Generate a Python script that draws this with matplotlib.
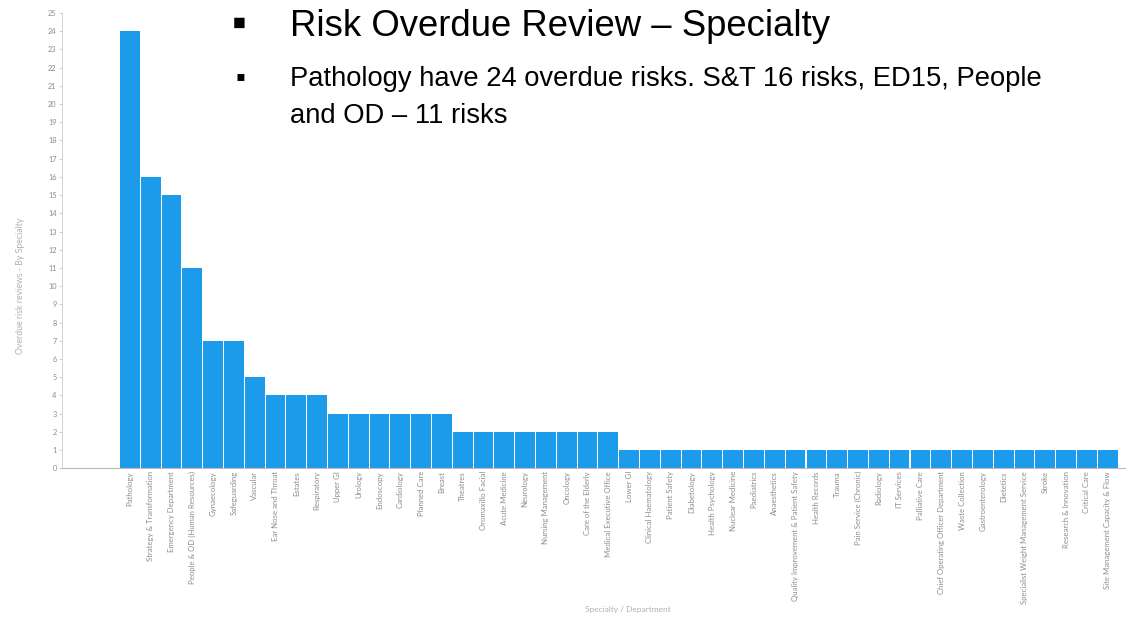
import numpy as np
import matplotlib
matplotlib.use("Agg")
from matplotlib import pyplot as plt

# overdue risk reviews per specialty / department
specialties = [
    "Pathology", "Strategy & Transformation", "Emergency Department",
    "People & OD (Human Resources)", "Gynaecology", "Safeguarding", "Vascular",
    "Ear Nose and Throat", "Estates", "Respiratory", "Upper GI", "Urology",
    "Endoscopy", "Cardiology", "Planned Care", "Breast", "Theatres",
    "Oromaxillo Facial", "Acute Medicine", "Neurology", "Nursing Management",
    "Oncology", "Care of the Elderly", "Medical Executive Office", "Lower GI",
    "Clinical Haematology", "Patient Safety", "Diabetology", "Health Psychology",
    "Nuclear Medicine", "Paediatrics", "Anaesthetics",
    "Quality Improvement & Patient Safety", "Health Records", "Trauma",
    "Pain Service (Chronic)", "Radiology", "IT Services", "Palliative Care",
    "Chief Operating Officer Department", "Waste Collection", "Gastroenterology",
    "Dietetics", "Specialist Weight Management Service", "Stroke",
    "Research & Innovation", "Critical Care", "Site Management Capacity & Flow",
]
overdue = [
    24, 16, 15, 11, 7, 7, 5,
    4, 4, 4, 3, 3,
    3, 3, 3, 3, 2,
    2, 2, 2, 2,
    2, 2, 2, 1,
    1, 1, 1, 1,
    1, 1, 1,
    1, 1, 1,
    1, 1, 1, 1,
    1, 1, 1,
    1, 1, 1,
    1, 1, 1,
]
y_ticks = list(range(0, 26))

plt.rcParams['font.family'] = ['Lato', 'DejaVu Sans']

fig = plt.figure(figsize=(11.31, 6.21), dpi=100)
ax = fig.add_axes([0.055, 0.246, 0.940, 0.733])

x = np.arange(len(specialties))
ax.bar(x, overdue, width=0.95, color="#1b9be9", zorder=2)

ax.set_xlim(-3.25, len(specialties) - 0.15)
ax.set_ylim(0, 25)
ax.set_yticks(y_ticks)
ax.set_yticklabels([str(t) for t in y_ticks], fontsize=5.3, color="#8c8c8c")
ax.set_xticks(x)
ax.set_xticklabels(specialties, rotation=90, fontsize=5.6, color="#8c8c8c")
ax.tick_params(axis="x", length=0, pad=2)
ax.tick_params(axis="y", length=2, width=0.5, color="#bbbbbb", pad=2)

for side in ("top", "right"):
    ax.spines[side].set_visible(False)
ax.spines["left"].set_color("#cccccc")
ax.spines["left"].set_linewidth(0.6)
ax.spines["bottom"].set_color("#bbbbbb")
ax.spines["bottom"].set_linewidth(0.8)

ax.set_ylabel("Overdue risk reviews - By Specialty", fontsize=6.3,
              color="#b0b0b0")
ax.yaxis.set_label_coords(-0.035, 0.40)
fig.text(0.555, 0.013, "Specialty / Department", fontsize=6,
         color="#b0b0b0", ha="center", va="bottom")

# slide bullet text over the chart
hfont = ['Liberation Sans', 'DejaVu Sans']
fig.text(0.205, 0.960, "\u25aa", fontsize=30, family=hfont, va="center", ha="left")
fig.text(0.256, 0.958, "Risk Overdue Review \u2013 Specialty", fontsize=26.3,
         family=hfont, va="center", ha="left")
fig.text(0.208, 0.874, "\u25aa", fontsize=20, family=hfont, va="center", ha="left")
fig.text(0.256, 0.872,
         "Pathology have 24 overdue risks. S&T 16 risks, ED15, People",
         fontsize=19.7, family=hfont, va="center", ha="left")
fig.text(0.256, 0.814, "and OD \u2013 11 risks", fontsize=19.7,
         family=hfont, va="center", ha="left")

fig.savefig("out.png", dpi=100)
